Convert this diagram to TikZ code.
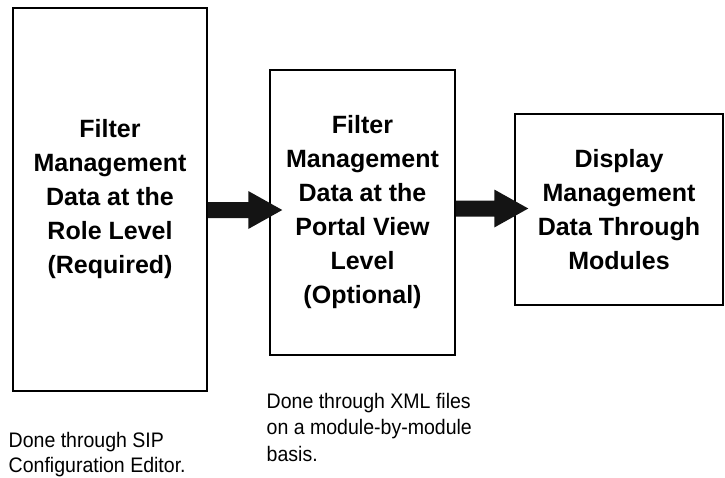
\documentclass[tikz,border=0pt]{standalone}
\usepackage{fontspec}
\setmainfont{Liberation Sans}
\newfontfamily\capfont[FakeStretch=0.93]{Liberation Sans}
\usetikzlibrary{calc}
\begin{document}
\begin{tikzpicture}[x=1pt,y=-1pt,
  stagebox/.style={draw=black,line width=1.5pt,inner sep=0pt,align=center,
    font=\fontsize{25}{34}\selectfont\bfseries},
  caption/.style={inner sep=0pt,anchor=north west,align=left},
  blockarrow/.style={fill=black!92}]
\useasboundingbox (0,0) rectangle (725,477);
\fill[white] (0,0) rectangle (725,477);

\node[stagebox,minimum width=194pt,minimum height=383pt] (b1) at (110,199.5)
  {Filter\\Management\\Data at the\\Role Level\\(Required)};
\node[stagebox,minimum width=185pt,minimum height=285pt] (b2) at (362.5,212.5)
  {Filter\\Management\\Data at the\\Portal View\\Level\\(Optional)};
\node[stagebox,minimum width=208pt,minimum height=191pt] (b3) at (619,209.5)
  {Display\\Management\\Data Through\\Modules};

\node[caption,font=\capfont\fontsize{21}{25}\selectfont] (c1) at (8.5,432)
  {Done through SIP\\Configuration Editor.};
\node[caption,font=\capfont\fontsize{21}{26.5}\selectfont] (c2) at (266.5,393)
  {Done through XML files\\on a module-by-module\\basis.};

% block arrow 1
\coordinate (a1s) at (b1.east |- 0,210);
\coordinate (a1t) at ($(b2.west |- 0,210)+(13,0)$);
\fill[blockarrow] ($(a1s)+(0,-8)$) -- ($(a1t)+(-34,-8)$) -- ($(a1t)+(-34,-19)$)
  -- (a1t) -- ($(a1t)+(-34,19)$) -- ($(a1t)+(-34,8)$) -- ($(a1s)+(0,8)$) -- cycle;
% block arrow 2
\coordinate (a2s) at (b2.east |- 0,208.5);
\coordinate (a2t) at ($(b3.west |- 0,208.5)+(14,0)$);
\fill[blockarrow] ($(a2s)+(0,-8)$) -- ($(a2t)+(-34,-8)$) -- ($(a2t)+(-34,-19)$)
  -- (a2t) -- ($(a2t)+(-34,19)$) -- ($(a2t)+(-34,8)$) -- ($(a2s)+(0,8)$) -- cycle;
\end{tikzpicture}
\end{document}
